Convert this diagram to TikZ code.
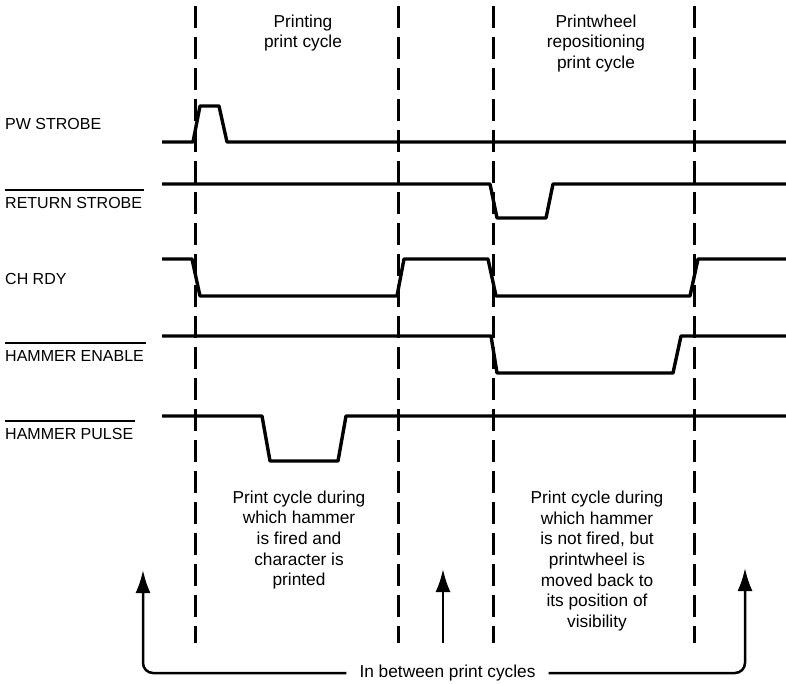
\documentclass[tikz,border=0pt]{standalone}
\usepackage{fontspec}
\setmainfont{Liberation Sans}
\usepackage{tikz}
\usetikzlibrary{arrows.meta}

\tikzset{
  signal/.style={line width=3.4pt, line join=round},
  cycleline/.style={line width=3pt, dash pattern=on 22pt off 9pt},
  siglabel/.style={anchor=west, inner xsep=0pt, inner ysep=3pt, font=\fontsize{16}{19}\selectfont},
  overbar/.style={line width=2.2pt},
  note/.style={align=center, font=\fontsize{17.3}{20.7}\selectfont},
  upto/.style={line width=2.5pt, rounded corners=10pt, -{Latex[length=23pt,width=15pt]}},
}

\begin{document}
\begin{tikzpicture}[x=1pt,y=-1pt]
\useasboundingbox (0,0) rectangle (786,684);

% cycle boundaries
\foreach \x in {195,398,493,694}
  \draw[cycleline] (\x,6) -- (\x,643);

\node[note] (printing) at (303,33) {Printing\\print cycle};
\node[note] (reposition) at (596,43.5) {Printwheel\\repositioning\\print cycle};

% signal names
\node[siglabel] (pwstrobe) at (5,124) {PW STROBE};
\node[siglabel] (retstrobe) at (5,203) {RETURN STROBE};
\node[siglabel] (chrdy) at (5,279) {CH RDY};
\node[siglabel] (hamenable) at (5,356) {HAMMER ENABLE};
\node[siglabel] (hampulse) at (5,434) {HAMMER PULSE};
\foreach \n in {retstrobe,hamenable,hampulse}
  \draw[overbar] ([yshift=4.5pt]\n.north west) -- ([xshift=2pt,yshift=4.5pt]\n.north east);

% waveforms
\draw[signal] (162,142) -- (193,142) -- (200,106) -- (219,106) -- (227,142) -- (786,142);
\draw[signal] (162,184) -- (490,184) -- (497,218) -- (546,218) -- (553,184) -- (786,184);
\draw[signal] (162,259) -- (192,259) -- (200,296) -- (397,296) -- (404,259) -- (488,259)
  -- (496,296) -- (690,296) -- (698,259) -- (786,259);
\draw[signal] (162,336) -- (491,336) -- (497,373) -- (673,373) -- (681,336) -- (786,336);
\draw[signal] (162,416) -- (262,416) -- (270,461) -- (338,461) -- (346,416) -- (786,416);

\node[note] (fired) at (299,540) {Print cycle during\\which hammer\\is fired and\\character is\\printed};
\node[note] (notfired) at (597,561) {Print cycle during\\which hammer\\is not fired, but\\printwheel is\\moved back to\\its position of\\visibility};

% in between arrows
\node[note, inner xsep=13pt] (gap) at (447.5,673) {In between print cycles};
\coordinate (ltip) at (143,570);
\coordinate (mtip) at (443,569);
\coordinate (mfoot) at (443,643);
\coordinate (rtip) at (745,568);
\draw[upto] (gap.west) -| (ltip);
\draw[upto] (gap.east) -| (rtip);
\draw[upto] (mfoot) -- (mtip);
\end{tikzpicture}
\end{document}
